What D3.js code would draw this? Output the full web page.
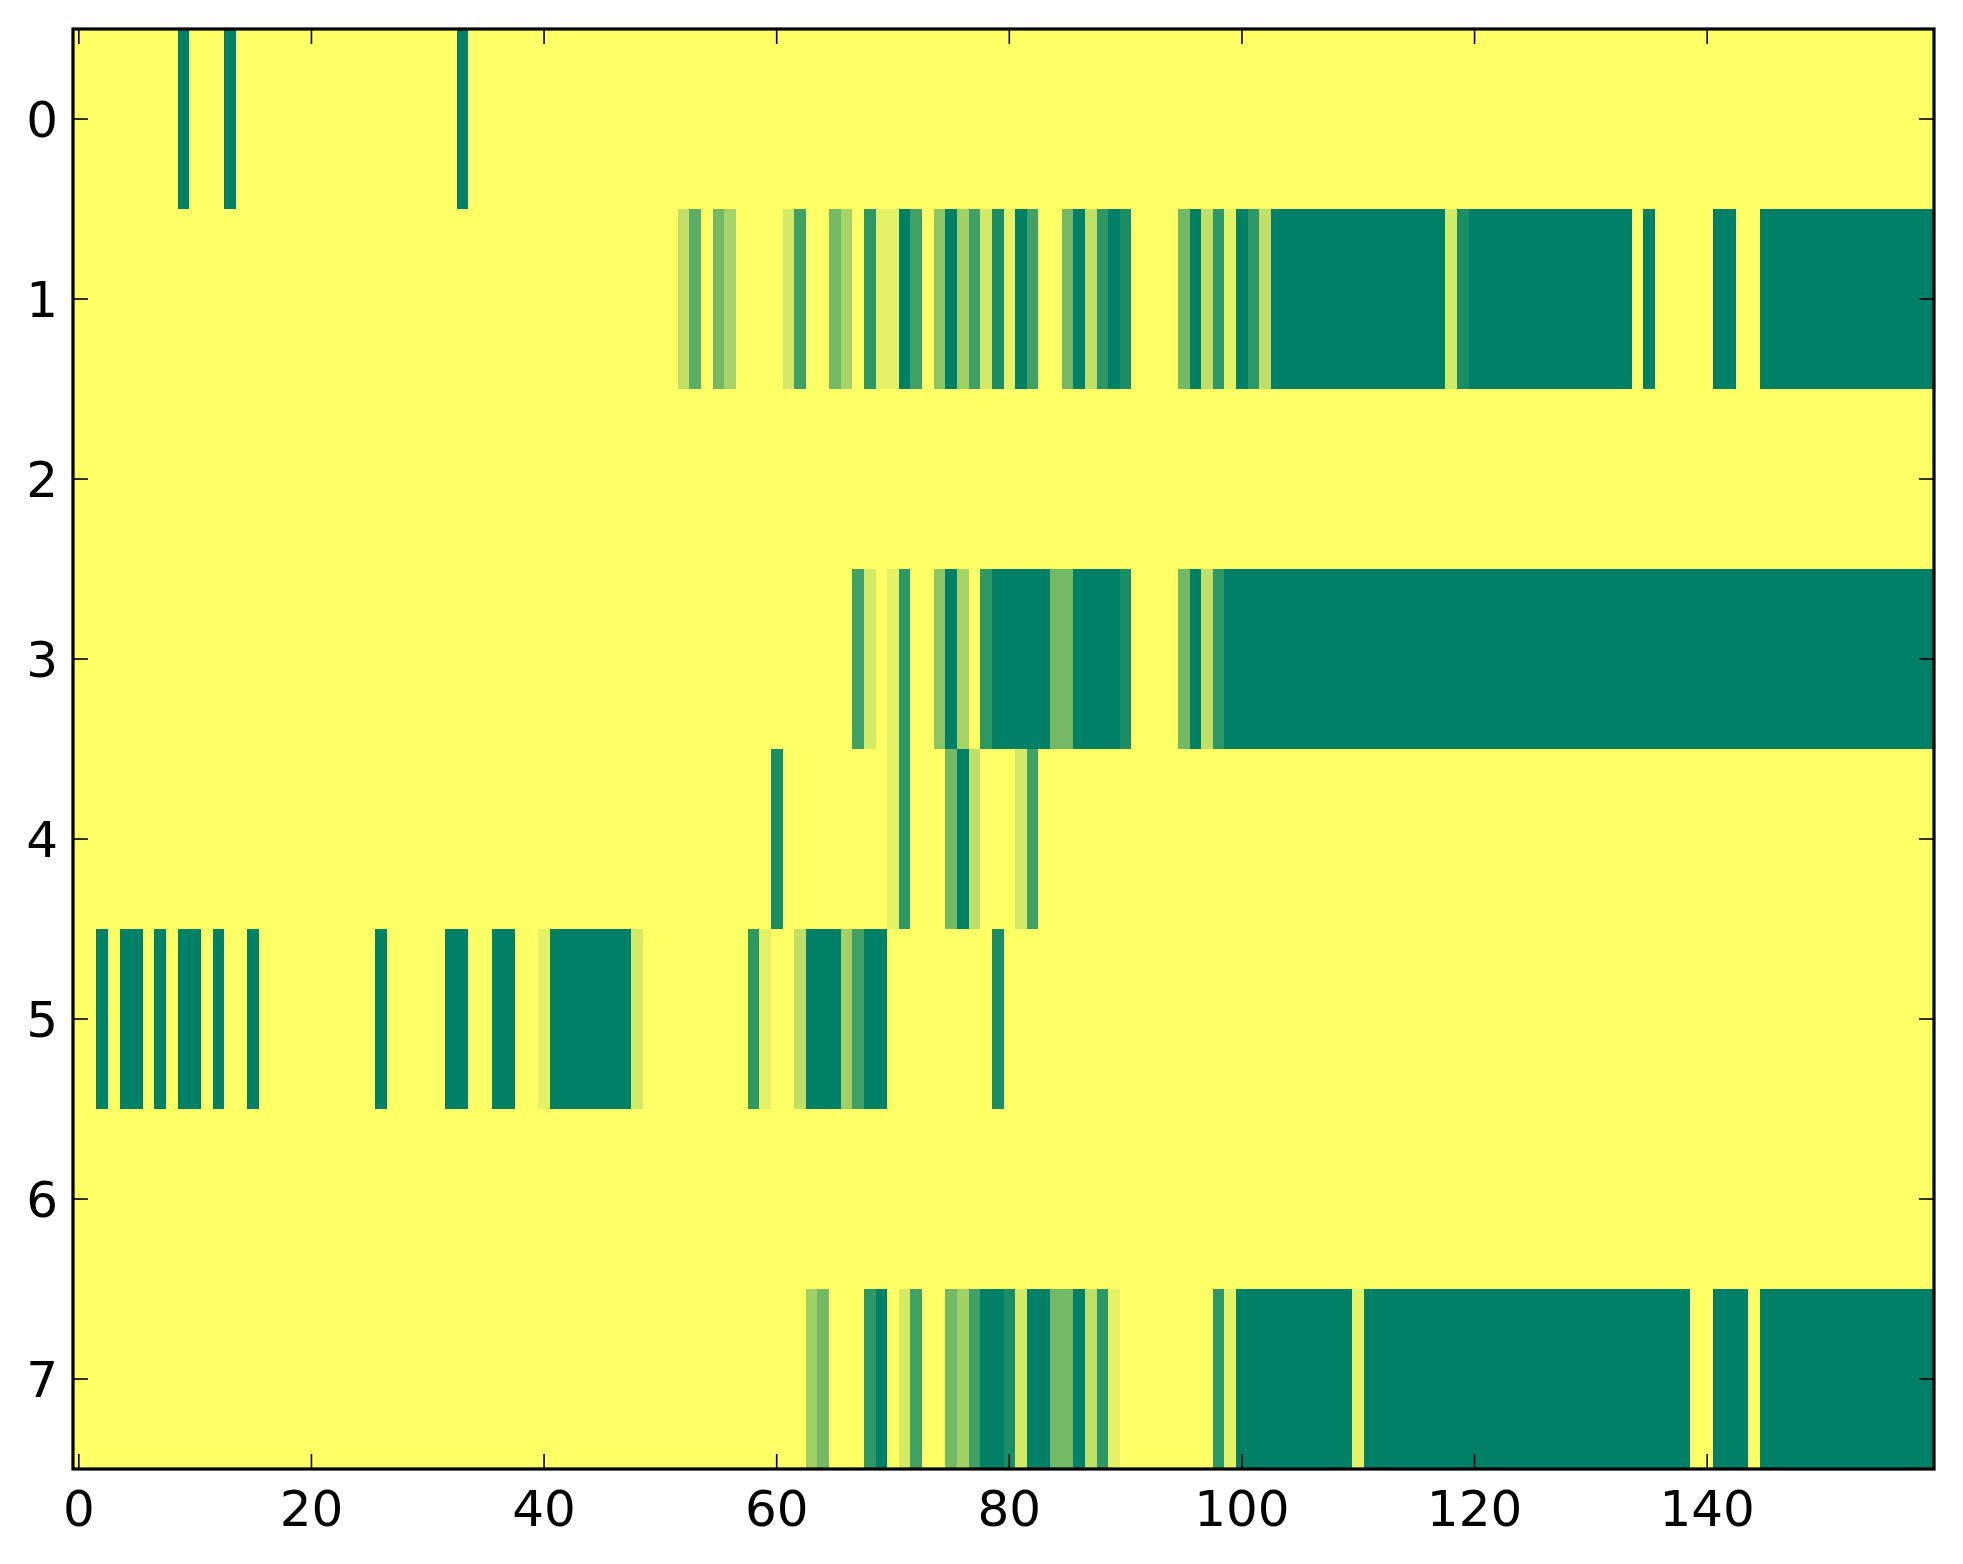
<!DOCTYPE html>
<html>
<head>
<meta charset="utf-8">
<script src="https://cdn.jsdelivr.net/npm/d3@7"></script>
<style>
  body { margin: 0; background: #fff; }
  text { font-family: "DejaVu Sans", sans-serif; }
</style>
</head>
<body>
<div id="main"></div>
<script>
// one array per row, 160 columns each, values 0..1 (summer_r colour map)
var row0 = [
  0,0,0,0,0,0,0,0,0,1, 0,0,0,1,0,0,0,0,0,0,
  0,0,0,0,0,0,0,0,0,0, 0,0,0,1,0,0,0,0,0,0,
  0,0,0,0,0,0,0,0,0,0, 0,0,0,0,0,0,0,0,0,0,
  0,0,0,0,0,0,0,0,0,0, 0,0,0,0,0,0,0,0,0,0,
  0,0,0,0,0,0,0,0,0,0, 0,0,0,0,0,0,0,0,0,0,
  0,0,0,0,0,0,0,0,0,0, 0,0,0,0,0,0,0,0,0,0,
  0,0,0,0,0,0,0,0,0,0, 0,0,0,0,0,0,0,0,0,0,
  0,0,0,0,0,0,0,0,0,0, 0,0,0,0,0,0,0,0,0,0
];
var row1 = [
  0,0,0,0,0,0,0,0,0,0, 0,0,0,0,0,0,0,0,0,0,
  0,0,0,0,0,0,0,0,0,0, 0,0,0,0,0,0,0,0,0,0,
  0,0,0,0,0,0,0,0,0,0, 0,0,.25,.64,0,.55,.35,0,0,0,
  0,.17,.75,0,0,.55,.35,0,.82,.1, .1,1,.75,0,.45,1,.37,.75,.17,.9,
  .1,1,.75,0,0,.55,1,.25,.82,1, .9,0,0,0,0,.55,1,.25,.82,.1,
  1,.82,.25,1,1,1,1,1,1,1, 1,1,1,1,1,1,1,1,.17,.9,
  1,1,1,1,1,1,1,1,1,1, 1,1,1,1,0,1,0,0,0,0,
  0,1,1,0,0,1,1,1,1,1, 1,1,1,1,1,1,1,1,1,1
];
var row2 = [
  0,0,0,0,0,0,0,0,0,0, 0,0,0,0,0,0,0,0,0,0,
  0,0,0,0,0,0,0,0,0,0, 0,0,0,0,0,0,0,0,0,0,
  0,0,0,0,0,0,0,0,0,0, 0,0,0,0,0,0,0,0,0,0,
  0,0,0,0,0,0,0,0,0,0, 0,0,0,0,0,0,0,0,0,0,
  0,0,0,0,0,0,0,0,0,0, 0,0,0,0,0,0,0,0,0,0,
  0,0,0,0,0,0,0,0,0,0, 0,0,0,0,0,0,0,0,0,0,
  0,0,0,0,0,0,0,0,0,0, 0,0,0,0,0,0,0,0,0,0,
  0,0,0,0,0,0,0,0,0,0, 0,0,0,0,0,0,0,0,0,0
];
var row3 = [
  0,0,0,0,0,0,0,0,0,0, 0,0,0,0,0,0,0,0,0,0,
  0,0,0,0,0,0,0,0,0,0, 0,0,0,0,0,0,0,0,0,0,
  0,0,0,0,0,0,0,0,0,0, 0,0,0,0,0,0,0,0,0,0,
  0,0,0,0,0,0,0,.75,.17,0, .1,.82,0,0,.45,1,.35,0,.82,1,
  1,1,1,1,.55,.55,1,1,1,1, .9,0,0,0,0,.55,1,.25,.82,1,
  1,1,1,1,1,1,1,1,1,1, 1,1,1,1,1,1,1,1,1,1,
  1,1,1,1,1,1,1,1,1,1, 1,1,1,1,1,1,1,1,1,1,
  1,1,1,1,1,1,1,1,1,1, 1,1,1,1,1,1,1,1,1,1
];
var row4 = [
  0,0,0,0,0,0,0,0,0,0, 0,0,0,0,0,0,0,0,0,0,
  0,0,0,0,0,0,0,0,0,0, 0,0,0,0,0,0,0,0,0,0,
  0,0,0,0,0,0,0,0,0,0, 0,0,0,0,0,0,0,0,0,0,
  .9,0,0,0,0,0,0,0,0,0, .1,.82,0,0,0,.55,1,.25,0,0,
  0,.17,.75,0,0,0,0,0,0,0, 0,0,0,0,0,0,0,0,0,0,
  0,0,0,0,0,0,0,0,0,0, 0,0,0,0,0,0,0,0,0,0,
  0,0,0,0,0,0,0,0,0,0, 0,0,0,0,0,0,0,0,0,0,
  0,0,0,0,0,0,0,0,0,0, 0,0,0,0,0,0,0,0,0,0
];
var row5 = [
  0,0,1,0,1,1,0,1,0,1, 1,0,1,0,0,1,0,0,0,0,
  0,0,0,0,0,0,1,0,0,0, 0,0,1,1,0,0,1,1,0,0,
  .1,1,1,1,1,1,1,1,.17,0, 0,0,0,0,0,0,0,0,.82,.1,
  0,0,.25,1,1,1,.37,.75,1,1, 0,0,0,0,0,0,0,0,0,.9,
  0,0,0,0,0,0,0,0,0,0, 0,0,0,0,0,0,0,0,0,0,
  0,0,0,0,0,0,0,0,0,0, 0,0,0,0,0,0,0,0,0,0,
  0,0,0,0,0,0,0,0,0,0, 0,0,0,0,0,0,0,0,0,0,
  0,0,0,0,0,0,0,0,0,0, 0,0,0,0,0,0,0,0,0,0
];
var row6 = [
  0,0,0,0,0,0,0,0,0,0, 0,0,0,0,0,0,0,0,0,0,
  0,0,0,0,0,0,0,0,0,0, 0,0,0,0,0,0,0,0,0,0,
  0,0,0,0,0,0,0,0,0,0, 0,0,0,0,0,0,0,0,0,0,
  0,0,0,0,0,0,0,0,0,0, 0,0,0,0,0,0,0,0,0,0,
  0,0,0,0,0,0,0,0,0,0, 0,0,0,0,0,0,0,0,0,0,
  0,0,0,0,0,0,0,0,0,0, 0,0,0,0,0,0,0,0,0,0,
  0,0,0,0,0,0,0,0,0,0, 0,0,0,0,0,0,0,0,0,0,
  0,0,0,0,0,0,0,0,0,0, 0,0,0,0,0,0,0,0,0,0
];
var row7 = [
  0,0,0,0,0,0,0,0,0,0, 0,0,0,0,0,0,0,0,0,0,
  0,0,0,0,0,0,0,0,0,0, 0,0,0,0,0,0,0,0,0,0,
  0,0,0,0,0,0,0,0,0,0, 0,0,0,0,0,0,0,0,0,0,
  0,0,0,.37,.55,0,0,0,.82,1, 0,.17,.75,0,0,.55,.37,.75,1,1,
  .9,.17,1,1,.55,.55,1,.25,.82,.1, 0,0,0,0,0,0,0,0,.82,.1,
  1,1,1,1,1,1,1,1,1,1, .1,1,1,1,1,1,1,1,1,1,
  1,1,1,1,1,1,1,1,1,1, 1,1,1,1,1,1,1,1,1,0,
  0,1,1,1,0,1,1,1,1,1, 1,1,1,1,1,1,1,1,1,1
];
var rows = [row0, row1, row2, row3, row4, row5, row6, row7];

var xTicks = [0, 20, 40, 60, 80, 100, 120, 140];
var yTicks = [0, 1, 2, 3, 4, 5, 6, 7];

var W = 1963, H = 1564;
var plotLeft = 73, plotRight = 1934, plotTop = 29, plotBottom = 1469;
var nCols = row0.length, nRows = rows.length;

var svg = d3.select("#main").append("svg")
    .attr("width", W)
    .attr("height", H);

var x = d3.scaleLinear().domain([-0.5, nCols - 0.5]).range([plotLeft, plotRight]);
var y = d3.scaleLinear().domain([-0.5, nRows - 0.5]).range([plotTop, plotBottom]);

// summer_r: 0 -> (1,1,0.4), 1 -> (0,0.5,0.4)
var color = d3.scaleLinear().domain([0, 1])
    .range(["#ffff66", "#008066"])
    .interpolate(d3.interpolateRgb);

var cells = [];
rows.forEach(function(r, ri) {
  r.forEach(function(v, ci) { cells.push({ r: ri, c: ci, v: v }); });
});

svg.append("g")
    .attr("shape-rendering", "crispEdges")
  .selectAll("rect")
  .data(cells)
  .join("rect")
    .attr("x", d => x(d.c - 0.5))
    .attr("y", d => y(d.r - 0.5))
    .attr("width", d => Math.min(x(d.c + 0.5) + 0.6, plotRight) - x(d.c - 0.5))
    .attr("height", d => Math.min(y(d.r + 0.5) + 0.6, plotBottom) - y(d.r - 0.5))
    .attr("fill", d => color(d.v));

// ticks, inward on all four sides
var tk = 15;
var tg = svg.append("g").attr("stroke", "#000").attr("stroke-width", 1.6);
xTicks.forEach(function(t) {
  tg.append("line").attr("x1", x(t)).attr("x2", x(t)).attr("y1", plotBottom).attr("y2", plotBottom - tk);
  tg.append("line").attr("x1", x(t)).attr("x2", x(t)).attr("y1", plotTop).attr("y2", plotTop + tk);
});
yTicks.forEach(function(t) {
  tg.append("line").attr("y1", y(t)).attr("y2", y(t)).attr("x1", plotLeft).attr("x2", plotLeft + tk);
  tg.append("line").attr("y1", y(t)).attr("y2", y(t)).attr("x1", plotRight).attr("x2", plotRight - tk);
});

// frame
svg.append("rect")
    .attr("x", plotLeft).attr("y", plotTop)
    .attr("width", plotRight - plotLeft).attr("height", plotBottom - plotTop)
    .attr("fill", "none")
    .attr("stroke", "#000")
    .attr("stroke-width", 3.2);

// labels
svg.append("g").selectAll("text")
  .data(xTicks)
  .join("text")
    .attr("x", d => x(d))
    .attr("y", 1526)
    .attr("text-anchor", "middle")
    .attr("font-size", 50)
    .text(d => d);

svg.append("g").selectAll("text")
  .data(yTicks)
  .join("text")
    .attr("x", 58)
    .attr("y", d => y(d) + 18)
    .attr("text-anchor", "end")
    .attr("font-size", 50)
    .text(d => d);
</script>
</body>
</html>
